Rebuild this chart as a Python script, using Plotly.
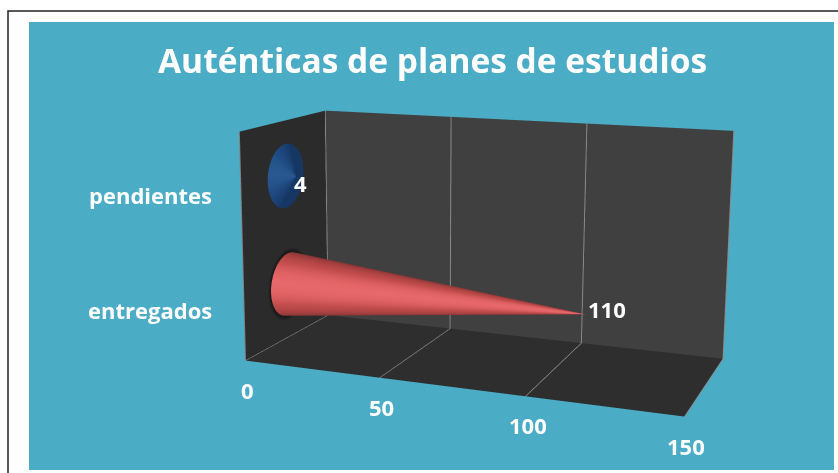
import numpy as np
import plotly.graph_objects as go

categories = ["entregados", "pendientes"]
values = [110, 4]
cone_scales = [
    [[0, "#7e3030"], [0.75, "#c24d4c"], [1, "#e8686a"]],
    [[0, "#163763"], [0.75, "#1f4a82"], [1, "#28588f"]],
]
z_centers = [0.5, 1.5]
x_ticks = [0, 50, 100, 150]
title_text = "Auténticas de planes de estudios"

W, H = 838, 473

# Camera that reproduces the reference's narrow-angle 3D view
EYE = (1.6292, -4.5990, 1.0687)
CENTER = (-0.2971, 0.0859, 0.0)
ASPECT = (1.6180, 0.6897, 0.8457)
ROLL = 0.0086
FOVY = 2 * float(np.arctan(0.1715))

# Label placement
category_label_px = [(150, 310), (150, 195)]
value_label_shift = [(-2, 5), (-6, -6)]

fig = go.Figure()
ry, rz = 0.21, 0.29
theta = np.linspace(0, 2 * np.pi, 91)
ts = np.array([0.0, 0.0, 0.02, 0.1, 0.25, 0.5, 0.75, 1.0])
rad = np.array([0.0, 1.0, 0.98, 0.9, 0.75, 0.5, 0.25, 0.0])
flat = dict(ambient=1, diffuse=0, specular=0, fresnel=0)

# soft dark shadow on the wall round the long cone's base
disc = np.array([0.0, 1.0, 1.08, 1.16])
disc_shade = np.array([0.0, 0.0, 0.45, 1.0])
X = np.full((disc.size, theta.size), 0.3)
Y = 0.5 + ry * np.outer(disc, np.cos(theta))
Z = z_centers[0] + rz * np.outer(disc, np.sin(theta))
fig.add_trace(go.Surface(x=X, y=Y, z=Z, surfacecolor=np.outer(disc_shade, np.ones_like(theta)),
    cmin=0, cmax=1, colorscale=[[0, "#171717"], [1, "#2b2b2b"]], showscale=False,
    hoverinfo="skip", lighting=flat))

# Shading: brightest on the side facing the viewer, darker toward the rims
facing = np.clip(-0.95 * np.cos(theta) + 0.3 * np.sin(theta), 0, 1)
for val, scale, zc in zip(values, cone_scales, z_centers):
    X = np.outer(ts * val, np.ones_like(theta))
    Y = 0.5 + ry * np.outer(rad, np.cos(theta))
    Z = zc + rz * np.outer(rad, np.sin(theta))
    shade = np.outer(np.ones_like(rad), facing)
    fig.add_trace(go.Surface(x=X, y=Y, z=Z, surfacecolor=shade, cmin=0, cmax=1,
        colorscale=scale, showscale=False, hoverinfo="skip", lighting=flat))

# front edge of the left wall
fig.add_trace(go.Scatter3d(x=[0, 0], y=[0, 0], z=[0, 2], mode="lines",
                           line=dict(color="#808080", width=2), hoverinfo="skip"))

txt = dict(family="Open Sans", size=22, color="white")
up = (np.sin(ROLL), 0.0, np.cos(ROLL))
fig.update_layout(
    width=W, height=H, margin=dict(l=0, r=0, t=0, b=0), paper_bgcolor="white",
    showlegend=False,
    shapes=[
        dict(type="rect", xref="paper", yref="paper", x0=8/W, x1=1.01, y0=-0.01, y1=1-11/H,
             line=dict(color="#222222", width=1.5), fillcolor="white", layer="below"),
        dict(type="rect", xref="paper", yref="paper", x0=29/W, x1=834/W, y0=1-470/H, y1=1-22/H,
             line=dict(width=0), fillcolor="#4bacc6", layer="below"),
    ],
    annotations=[
        dict(text=f"<b>{title_text}</b>", xref="paper", yref="paper", x=432/W, y=1-60/H,
             xanchor="center", yanchor="middle", showarrow=False,
             font=dict(family="Open Sans", size=33.5, color="white")),
    ] + [
        dict(text=f"<b>{c}</b>", xref="paper", yref="paper", x=px/W, y=1-py/H,
             xanchor="center", yanchor="middle", showarrow=False, font=txt)
        for c, (px, py) in zip(categories, category_label_px)
    ],
    scene=dict(
        domain=dict(x=[0, 1], y=[0, 1]),
        bgcolor="rgba(0,0,0,0)",
        aspectmode="manual",
        aspectratio=dict(x=ASPECT[0], y=ASPECT[1], z=ASPECT[2]),
        camera=dict(eye=dict(x=EYE[0], y=EYE[1], z=EYE[2]),
                    center=dict(x=CENTER[0], y=CENTER[1], z=CENTER[2]),
                    up=dict(x=up[0], y=up[1], z=up[2]),
                    projection=dict(type="perspective")),
        xaxis=dict(range=[0, 150], tickvals=x_ticks, title="", showbackground=True,
                   backgroundcolor="#2b2b2b", gridcolor="#8a8a8a", gridwidth=2, zeroline=False,
                   showspikes=False, showticklabels=False, showline=False, ticks=""),
        yaxis=dict(range=[0, 1], tickvals=[], title="", showbackground=True,
                   backgroundcolor="#404040", showgrid=False, zeroline=False, showspikes=False,
                   showticklabels=False, showline=False),
        zaxis=dict(range=[0, 2], tickvals=[], title="", showbackground=True,
                   backgroundcolor="#2e2e2e", showgrid=False, zeroline=False, showspikes=False,
                   showticklabels=False, showline=False),
        annotations=[
            dict(x=v, y=0.5, z=zc, text=f"<b>{v}</b>", showarrow=False, xanchor="left", yanchor="middle",
                 xshift=2 + sx, yshift=sy, font=txt)
            for v, zc, (sx, sy) in zip(values, z_centers, value_label_shift)
        ] + [
            dict(x=t, y=0, z=0, text=f"<b>{t}</b>", showarrow=False, xanchor="center", yanchor="middle",
                 xshift=2, yshift=-29, font=txt)
            for t in x_ticks
        ],
    ),
)
post = """
document.body.style.margin='0';
var gd=document.querySelector('.plotly-graph-div');
var gp=gd._fullLayout.scene._scene.glplot;
gp.fovy=%f; gp.redraw();
""" % FOVY
fig.write_html("out.html", post_script=post, config=dict(displayModeBar=False))
